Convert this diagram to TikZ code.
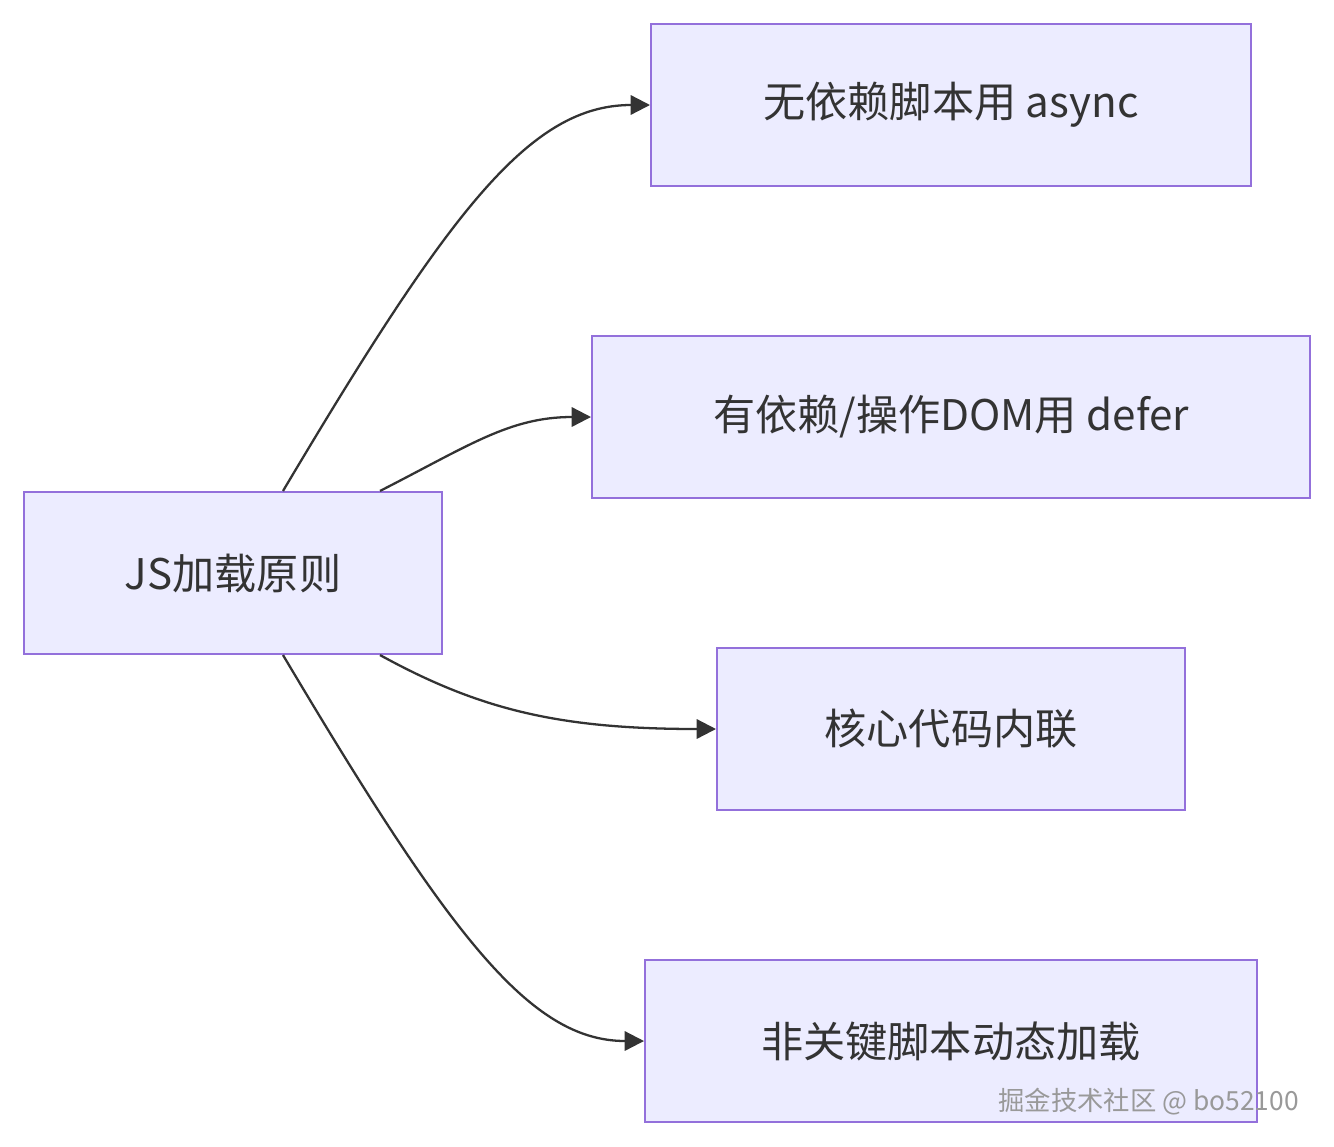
\documentclass[tikz,border=0pt]{standalone}
\usepackage{fontspec}
\setmainfont{Noto Sans CJK SC}
\usetikzlibrary{arrows.meta,calc}
\definecolor{boxfill}{HTML}{ECECFF}
\definecolor{boxline}{HTML}{9370DB}
\definecolor{edge}{HTML}{333333}
\tikzset{
  box/.style={draw=boxline,fill=boxfill,line width=1.2pt,minimum height=3.24cm,
    inner sep=0pt,font=\fontsize{24}{28}\selectfont,text=edge},
  link/.style={draw=edge,line width=1.3pt,-{Triangle[length=11pt,width=11pt]}}
}
\begin{document}
\begin{tikzpicture}[x=0.02cm,y=-0.02cm]
\useasboundingbox (0,0) rectangle (1334,1146);
\node[box,minimum width=8.36cm] (js) at (233,573) {JS加载原则};
\node[box,minimum width=12cm] (async) at (951,105) {无依赖脚本用 async};
\node[box,minimum width=14.36cm] (defer) at (951,417) {有依赖/操作DOM用 defer};
\node[box,minimum width=9.36cm] (inline) at (951,729) {核心代码内联};
\node[box,minimum width=12.24cm] (dyn) at (645+306,1041) {非关键脚本动态加载};
% connectors
\coordinate (t1) at ($(js.north)+(50,0)$);
\coordinate (t2) at ($(js.north)+(147,0)$);
\coordinate (b1) at ($(js.south)+(50,0)$);
\coordinate (b2) at ($(js.south)+(147,0)$);
\draw[link] (t1) .. controls (450,210) and (530,105) .. (async.west);
\draw[link] (t2) .. controls (470,445) and (510,417) .. (defer.west);
\draw[link] (b2) .. controls (480,710) and (560,729) .. (inline.west);
\draw[link] (b1) .. controls (450,936) and (530,1041) .. (dyn.west);
\node[text=gray!80!white,font=\fontsize{15}{18}\selectfont,anchor=east] (mark) at (1305,1102) {掘金技术社区 @ bo52100};
\end{tikzpicture}
\end{document}
